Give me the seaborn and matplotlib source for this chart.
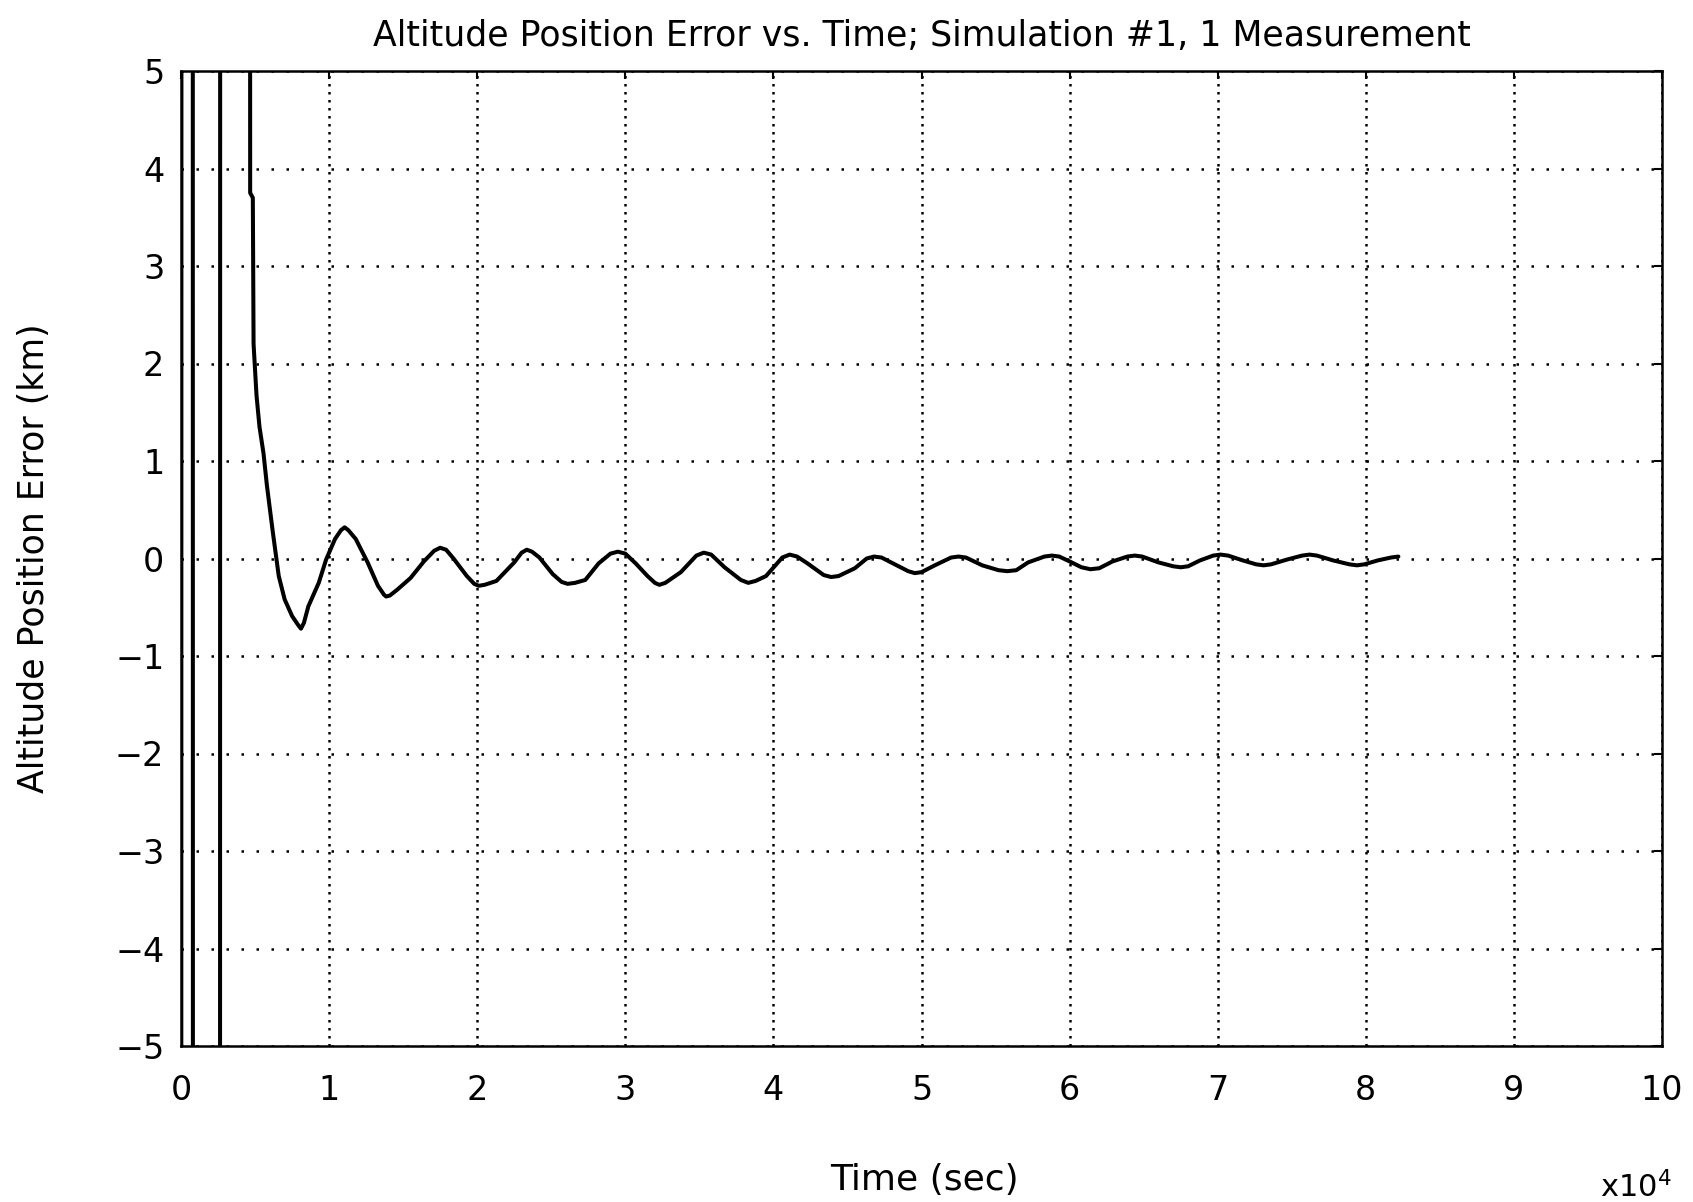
import pandas as pd
import seaborn as sns
import matplotlib
matplotlib.use("Agg")
import matplotlib.pyplot as plt

# Values (time in units of 10^4 sec, error in km)
time_1e4s = [
    0.000, 0.005, 0.078, 0.082, 0.262, 0.266, 0.462, 0.467, 0.485, 0.490,
    0.510, 0.530, 0.557, 0.580, 0.620, 0.635, 0.660, 0.700, 0.750, 0.790,
    0.810, 0.830, 0.860, 0.930, 0.980, 1.040, 1.080, 1.105, 1.130, 1.180,
    1.260, 1.330, 1.370, 1.385, 1.410, 1.460, 1.550, 1.640, 1.710, 1.750,
    1.790, 1.840, 1.930, 1.980, 2.010, 2.050, 2.130, 2.250, 2.300, 2.335,
    2.370, 2.420, 2.510, 2.570, 2.610, 2.660, 2.730, 2.820, 2.900, 2.950,
    3.000, 3.070, 3.150, 3.200, 3.230, 3.270, 3.375, 3.480, 3.530, 3.580,
    3.670, 3.780, 3.830, 3.880, 3.950, 4.060, 4.110, 4.160, 4.230, 4.340,
    4.390, 4.440, 4.550, 4.630, 4.680, 4.730, 4.820, 4.910, 4.955, 5.000,
    5.090, 5.200, 5.250, 5.300, 5.410, 5.520, 5.580, 5.640, 5.720, 5.830,
    5.880, 5.930, 6.000, 6.080, 6.140, 6.200, 6.290, 6.390, 6.440, 6.490,
    6.600, 6.700, 6.750, 6.800, 6.880, 6.970, 7.020, 7.070, 7.170, 7.260,
    7.310, 7.360, 7.470, 7.570, 7.620, 7.670, 7.780, 7.890, 7.940, 7.990,
    8.080, 8.170, 8.220,
]
alt_error_km = [
    -30.0, 30.0, 30.0, -30.0, -30.0, 30.0, 30.0, 3.75, 3.70, 2.20,
    1.67, 1.35, 1.08, 0.75, 0.27, 0.10, -0.18, -0.42, -0.59, -0.68,
    -0.72, -0.66, -0.49, -0.25, -0.01, 0.20, 0.29, 0.32, 0.29, 0.20,
    -0.04, -0.28, -0.37, -0.39, -0.38, -0.32, -0.20, -0.03, 0.08, 0.11,
    0.09, 0.00, -0.18, -0.26, -0.28, -0.27, -0.23, -0.04, 0.06, 0.09,
    0.07, 0.01, -0.16, -0.24, -0.26, -0.25, -0.22, -0.05, 0.05, 0.07,
    0.05, -0.05, -0.18, -0.25, -0.27, -0.25, -0.14, 0.03, 0.06, 0.04,
    -0.09, -0.22, -0.25, -0.23, -0.18, 0.01, 0.04, 0.02, -0.05, -0.17,
    -0.19, -0.18, -0.10, 0.00, 0.02, 0.01, -0.06, -0.13, -0.15, -0.14,
    -0.07, 0.01, 0.02, 0.01, -0.07, -0.12, -0.13, -0.12, -0.04, 0.02,
    0.03, 0.02, -0.03, -0.09, -0.11, -0.10, -0.03, 0.02, 0.03, 0.02,
    -0.04, -0.08, -0.09, -0.08, -0.02, 0.03, 0.04, 0.03, -0.02, -0.06,
    -0.07, -0.06, -0.01, 0.03, 0.04, 0.03, -0.02, -0.06, -0.07, -0.06,
    -0.02, 0.01, 0.02,
]
x_ticks = list(range(0, 11))
y_ticks = list(range(-5, 6))

df = pd.DataFrame({"t": time_1e4s, "err": alt_error_km})

sns.set_style("white")
plt.rcParams["font.family"] = ["DejaVu Sans"]
plt.rcParams["text.color"] = "black"
plt.rcParams["axes.labelcolor"] = "black"

fig = plt.figure(figsize=(16.93, 12.02), dpi=100)
ax = fig.add_axes([181 / 1693, (1202 - 1046) / 1202, 1481 / 1693, 975 / 1202])

sns.lineplot(data=df, x="t", y="err", sort=False, estimator=None,
             color="black", linewidth=2.9, ax=ax)

ax.set_xlim(0, 10)
ax.set_ylim(-5, 5)
ax.set_xticks(x_ticks)
ax.set_yticks(y_ticks)
ax.set_xticklabels([str(v) for v in x_ticks])
ax.set_yticklabels([str(v).replace("-", "\u2212") for v in y_ticks])

# MATLAB-like dotted grid
ax.xaxis.grid(True, color="black", linestyle=(0, (1, 2.2)), linewidth=1.8)
ax.yaxis.grid(True, color="black", linestyle=(0, (1, 5)), linewidth=1.8)

for s in ax.spines.values():
    s.set_visible(True)
    s.set_color("black")
    s.set_linewidth(1.8)

ax.tick_params(axis="both", direction="in", length=6, width=1.5,
               top=True, right=True, colors="black")
ax.tick_params(axis="x", labelsize=24, pad=20)
ax.tick_params(axis="y", labelsize=24, pad=12)

ax.set_title("Altitude Position Error vs. Time; Simulation #1, 1 Measurement",
             fontsize=25, pad=18, color="black")
ax.set_xlabel("Time (sec)", fontsize=26)
ax.set_ylabel("Altitude Position Error (km)", fontsize=25)
ax.xaxis.set_label_coords(0.502, -0.12)
ax.yaxis.set_label_coords(-0.088, 0.5)

fig.text(0.966, 0.012, r"x10$^4$", fontsize=22, ha="center", va="center")

fig.savefig("out.png", dpi=100)
